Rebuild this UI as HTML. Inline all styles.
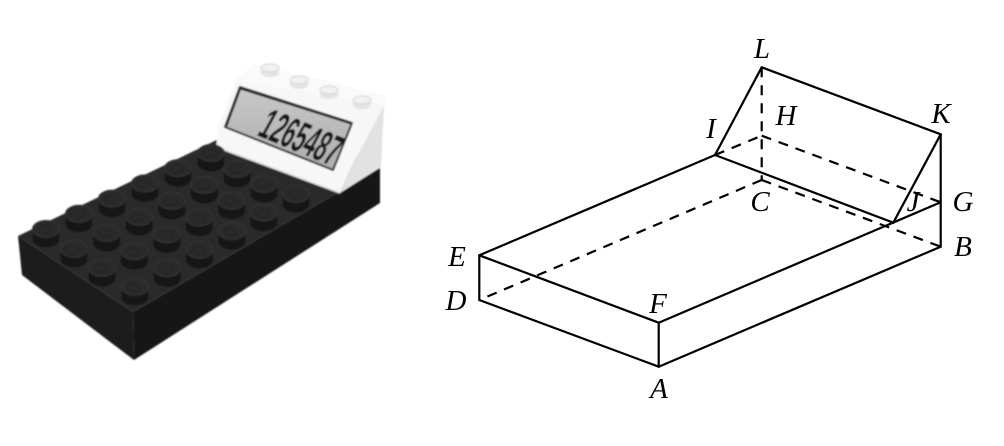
<!DOCTYPE html>
<html>
<head>
<meta charset="utf-8">
<style>
html,body{margin:0;padding:0;background:#fff;}
svg{display:block;}
</style>
</head>
<body>
<svg width="1004" height="446" viewBox="0 0 1004 446" xmlns="http://www.w3.org/2000/svg">
<defs>
  <filter id="bl" x="-10%" y="-10%" width="120%" height="120%"><feGaussianBlur stdDeviation="0.8"/></filter>
  <g id="st">
    <path d="M-13.5,0 V10 A13.5,8.5 0 0 0 13.5,10 V0 Z" fill="#141414"/>
    <ellipse rx="13.5" ry="8.5" fill="#2c2c2c" stroke="#363636" stroke-width="1"/>
    <ellipse rx="6.5" ry="3.8" cx="-1" cy="0.5" fill="none" stroke="#242424" stroke-width="1.2"/>
  </g>
  <g id="ws">
    <path d="M-9,0 V5 A9,4 0 0 0 9,5 V0 Z" fill="#e4e4e4"/>
    <ellipse rx="9" ry="4" fill="#f2f2f2" stroke="#d2d2d2" stroke-width="1"/>
  </g>
  <linearGradient id="lcd" x1="0" y1="0" x2="0" y2="1">
    <stop offset="0" stop-color="#c8c8c8"/>
    <stop offset="1" stop-color="#adadad"/>
  </linearGradient>
</defs>

<!-- ===== Photo of LEGO calculator ===== -->
<g filter="url(#bl)">
  <!-- base faces -->
  <polygon points="18,236 133,312 134,360 22,275" fill="#1c1c1c"/>
  <polygon points="133,312 380,168 380,203 134,360" fill="#191919"/>
  <polygon points="18,236 133,312 380,168 300,128 225,136" fill="#292929"/>

  <!-- white display block -->
  <polygon points="236,80 255,63 388,96 384,105" fill="#fafafa"/>
  <polygon points="236,80 384,105 352,166 340,193 216,147 219,125" fill="#f7f7f7"/>
  <polygon points="384,105 381,167 340,193 352,166" fill="#e2e2e2"/>
  <line x1="216" y1="147" x2="340" y2="193" stroke="#d8d8d8" stroke-width="1.5"/>
  <!-- top studs -->
  <use href="#ws" x="270" y="68"/>
  <use href="#ws" x="299" y="80"/>
  <use href="#ws" x="329" y="90"/>
  <use href="#ws" x="362" y="100"/>

  <!-- LCD -->
  <polygon points="240,87 352,123 333,170 225,127" fill="url(#lcd)" stroke="#3e3e3e" stroke-width="2.2" stroke-linejoin="round"/>
  <polyline points="226,126 240,88 351,123" fill="none" stroke="#2a2a2a" stroke-width="2.8"/>
  <text transform="matrix(0.5 0.205 -0.55 1 256 135)" font-family="Liberation Sans, sans-serif" font-weight="bold" font-size="39" fill="#161616">1265487</text>

  <!-- base studs (sorted back to front) -->
  <use href="#st" x="211" y="153"/>
  <use href="#st" x="178" y="168.2"/>
  <use href="#st" x="237" y="169"/>
  <use href="#st" x="145" y="183.4"/>
  <use href="#st" x="264" y="184"/>
  <use href="#st" x="204.4" y="185"/>
  <use href="#st" x="296" y="194"/>
  <use href="#st" x="112" y="198.6"/>
  <use href="#st" x="231.6" y="200.8"/>
  <use href="#st" x="171.8" y="201"/>
  <use href="#st" x="263.8" y="212.6"/>
  <use href="#st" x="79" y="213.8"/>
  <use href="#st" x="139.2" y="217"/>
  <use href="#st" x="199.2" y="217.6"/>
  <use href="#st" x="46" y="229"/>
  <use href="#st" x="231.6" y="231.2"/>
  <use href="#st" x="106.6" y="233"/>
  <use href="#st" x="166.8" y="234.4"/>
  <use href="#st" x="74" y="249"/>
  <use href="#st" x="199.4" y="249.8"/>
  <use href="#st" x="134.4" y="251.2"/>
  <use href="#st" x="102" y="268"/>
  <use href="#st" x="167.2" y="268.4"/>
  <use href="#st" x="135" y="287"/>
</g>

<!-- ===== Geometric diagram ===== -->
<g fill="none" stroke="#000" stroke-width="2.2" stroke-linejoin="round" stroke-linecap="round">
  <line x1="479.3" y1="255.3" x2="479.3" y2="300"/>
  <line x1="479.3" y1="300" x2="658.7" y2="366.7"/>
  <line x1="658.7" y1="366.7" x2="658.7" y2="322.7"/>
  <line x1="479.3" y1="255.3" x2="658.7" y2="322.7"/>
  <line x1="658.7" y1="366.7" x2="940.7" y2="246.7"/>
  <line x1="658.7" y1="322.7" x2="940.7" y2="202.3"/>
  <line x1="479.3" y1="255.3" x2="715" y2="155"/>
  <line x1="715" y1="155" x2="893.3" y2="222.7"/>
  <line x1="715" y1="155" x2="761.7" y2="67.3"/>
  <line x1="761.7" y1="67.3" x2="940.7" y2="134.3"/>
  <line x1="940.7" y1="134.3" x2="893.3" y2="222.7"/>
  <line x1="940.7" y1="134.3" x2="940.7" y2="246.7"/>
</g>
<g fill="none" stroke="#000" stroke-width="2.2" stroke-dasharray="10 8" stroke-linecap="butt">
  <line x1="715" y1="155" x2="761.7" y2="135.7"/>
  <line x1="761.7" y1="135.7" x2="940.7" y2="202.3"/>
  <line x1="761.7" y1="67.3" x2="761.7" y2="180"/>
  <line x1="761.7" y1="180" x2="479.3" y2="300"/>
  <line x1="761.7" y1="180" x2="940.7" y2="246.7"/>
</g>

<g font-family="Liberation Serif, serif" font-style="italic" font-size="29" fill="#000" text-anchor="middle">
  <text x="762" y="58">L</text>
  <text x="786" y="125">H</text>
  <text x="711" y="138">I</text>
  <text x="941" y="123">K</text>
  <text x="760" y="211">C</text>
  <text x="913" y="211">J</text>
  <text x="963" y="211">G</text>
  <text x="963" y="256">B</text>
  <text x="457" y="266">E</text>
  <text x="456" y="310">D</text>
  <text x="658" y="313">F</text>
  <text x="659" y="398">A</text>
</g>
</svg>
</body>
</html>
